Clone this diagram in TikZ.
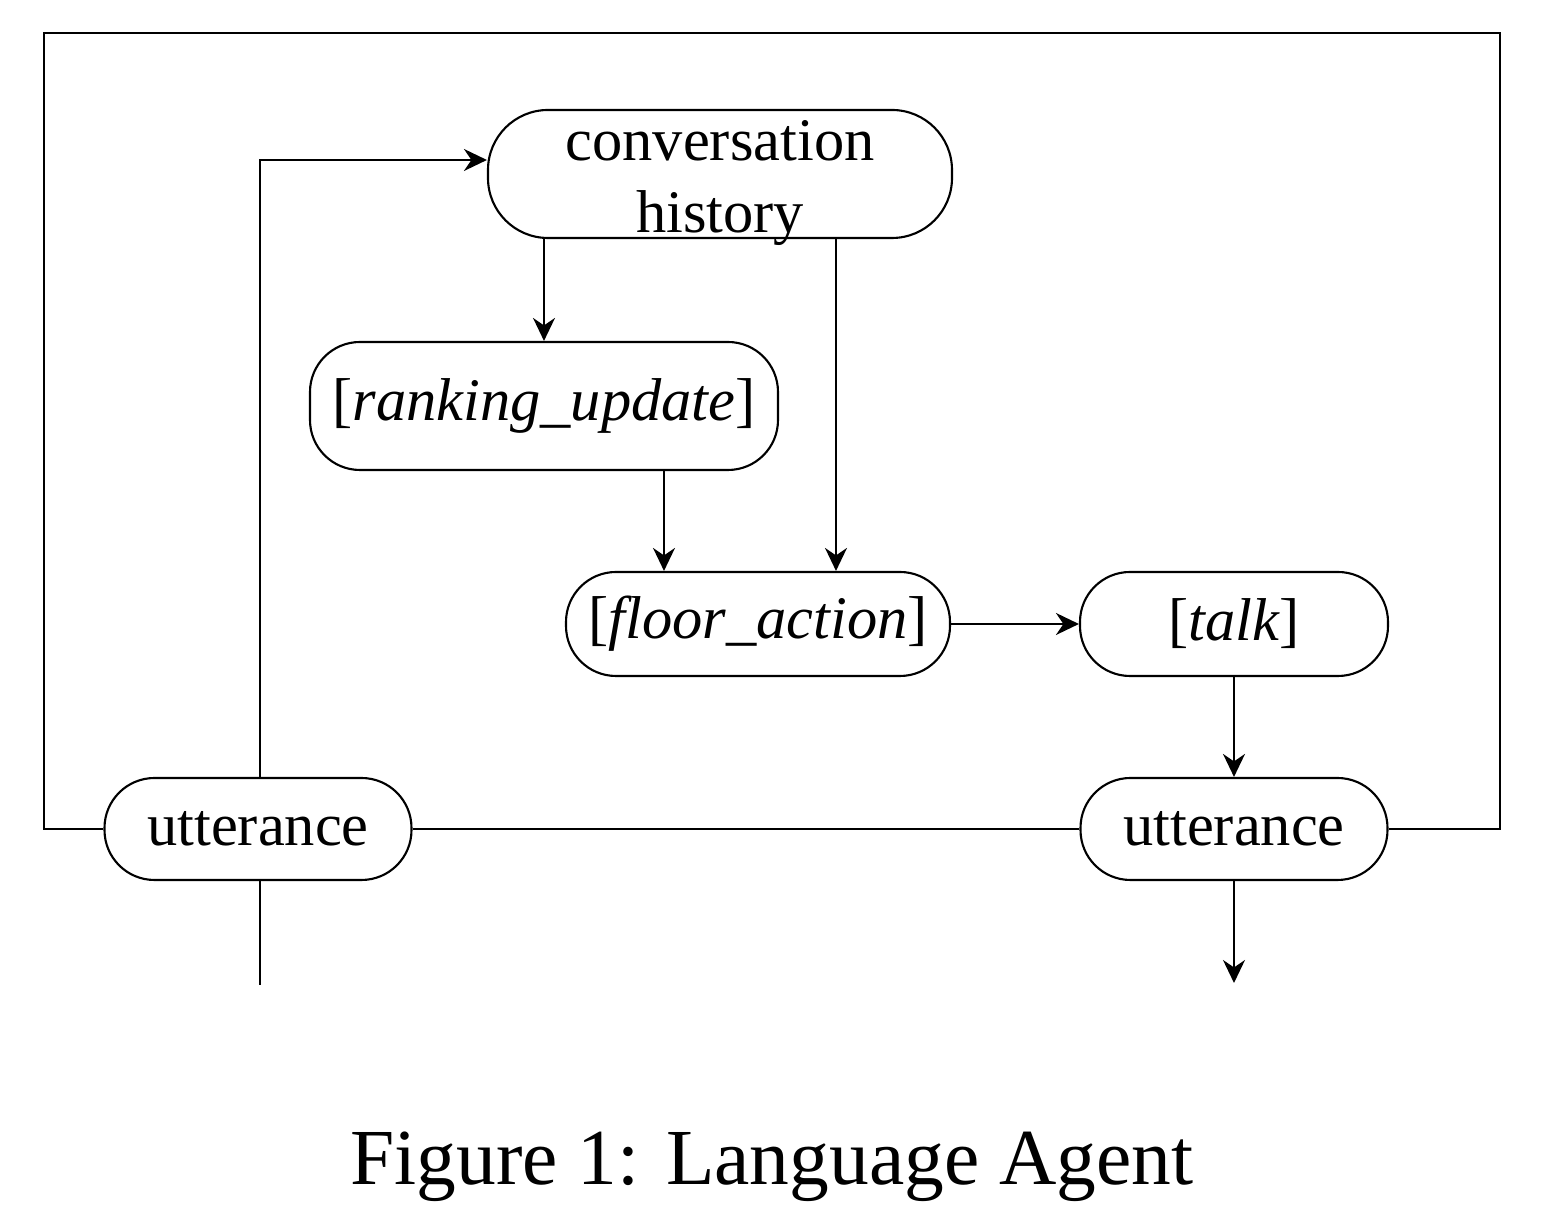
\documentclass[tikz,border=0pt]{standalone}
\usepackage{fontspec}
\setmainfont{Liberation Serif}
\usetikzlibrary{arrows.meta}

\begin{document}
\begin{tikzpicture}[x=1mm,y=1mm,line width=0.6pt,
  agentbox/.style={draw,rounded corners=5mm,inner sep=0pt,align=center,
    font=\fontsize{17.2}{20.6}\selectfont},
  flow/.style={-{Stealth[length=2.3mm,width=2.2mm]}}]
\useasboundingbox (0,0) rectangle (154.4,123);
  \node[agentbox,minimum width=46.4mm,minimum height=12.8mm,rounded corners=6mm] (conv) at (72,105.6)
    {\raisebox{-2.3mm}[0pt][0pt]{\begin{tabular}{@{}c@{}}conversation\\history\end{tabular}}};
  \node[agentbox,minimum width=46.8mm,minimum height=12.8mm] (rank) at (54.4,82.4) {[\textit{ranking\_update}]};
  \node[agentbox,minimum width=38.4mm,minimum height=10.4mm] (floor) at (75.8,60.6) {[\textit{floor\_action}]};
  \node[agentbox,minimum width=30.8mm,minimum height=10.4mm] (talk) at (123.4,60.6) {[\textit{talk}]};
  \node[agentbox,minimum width=30.7mm,minimum height=10.2mm] (uttL) at (25.8,40.1) {utterance};
  \node[agentbox,minimum width=30.7mm,minimum height=10.2mm] (uttR) at (123.4,40.1) {utterance};
  \coordinate (tl) at (4.4,119.7);
  \coordinate (tr) at (150.0,119.7);
  \coordinate (uttLout) at (26.0,24.5);
  \coordinate (uttRout) at (123.4,24.7);
  % loop round the agent
  \draw (uttL.west) -| (tl) -- (tr) |- (uttR.east);
  \draw (uttL.east) -- (uttR.west);
  \draw[flow] ([xshift=0.2mm]uttL.north) |- ([yshift=1.4mm]conv.west);
  \draw ([xshift=0.2mm]uttL.south) -- (uttLout);
  \draw[flow] (uttR.south) -- (uttRout);
  % inside
  \draw[flow] (rank.north |- conv.south) -- (rank.north);
  \draw[flow] ([xshift=7.8mm]floor.north |- conv.south) -- ([xshift=7.8mm]floor.north);
  \draw[flow] ([xshift=-9.4mm]floor.north |- rank.south) -- ([xshift=-9.4mm]floor.north);
  \draw[flow] (floor.east) -- (talk.west);
  \draw[flow] (talk.south) -- (uttR.north);
  \node[anchor=base,font=\fontsize{22.6}{27}\selectfont] (caption) at (77.2,4.5) {Figure 1: Language Agent};
\end{tikzpicture}
\end{document}
